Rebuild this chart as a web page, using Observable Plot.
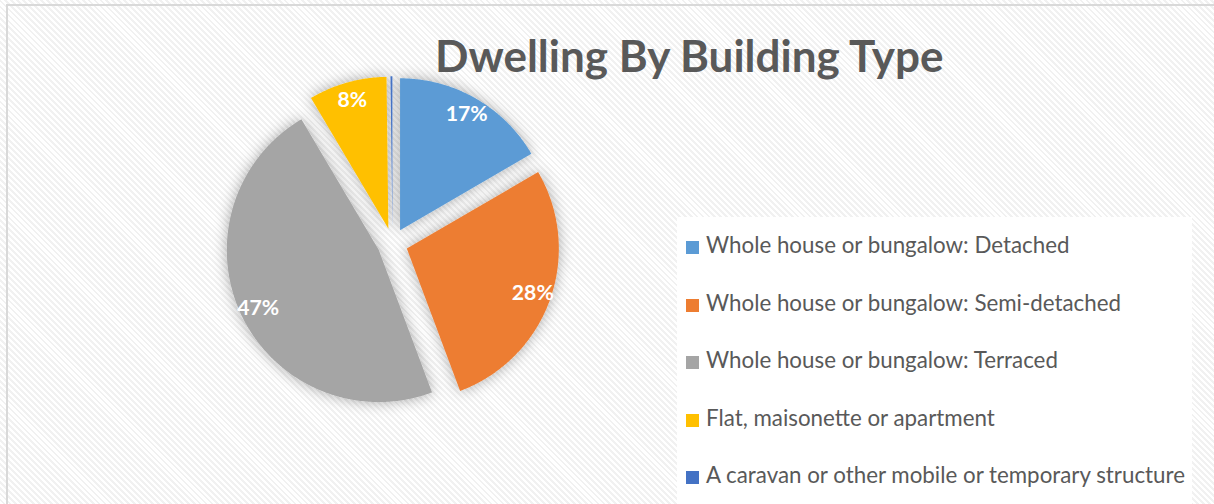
<!DOCTYPE html>
<html><head><meta charset="utf-8">
<script src="https://cdn.jsdelivr.net/npm/d3@7"></script>
<script src="https://cdn.jsdelivr.net/npm/@observablehq/plot@0.6"></script>
<style>
html,body{margin:0;padding:0;}
body{width:1214px;height:504px;overflow:hidden;position:relative;
 background: repeating-linear-gradient(45deg,#ffffff 0px,#ffffff 2.2px,#f1f1f1 2.2px,#f1f1f1 4.2px);}
#frame{position:absolute;left:6px;top:4px;width:1300px;height:600px;border-left:2px solid #d9d9d9;border-top:2px solid #d9d9d9;}
#chart{position:absolute;left:0;top:0;}
#title{position:absolute;white-space:nowrap;color:#595959;font-family:Lato,"Open Sans",sans-serif;font-weight:bold;}
#legendbox{position:absolute;left:677px;top:217px;width:515px;height:300px;background:#ffffff;}
.lg-row{position:absolute;white-space:nowrap;color:#595959;font-family:Lato,"Open Sans",sans-serif;}
.lg-sw{position:absolute;width:13px;height:13px;}
</style></head><body>
<div id="frame"></div>
<div id="legendbox"></div>
<div id="chart"></div>
<div id="title"></div>
<div id="legend"></div>
<script>
// ---- data ----
const categories = [
  "Whole house or bungalow: Detached",
  "Whole house or bungalow: Semi-detached",
  "Whole house or bungalow: Terraced",
  "Flat, maisonette or apartment",
  "A caravan or other mobile or temporary structure"
];
const shares = [16.6, 27.7, 47.2, 8.3, 0.2];
const colors = ["#5B9BD5", "#ED7D31", "#A5A5A5", "#FFC000", "#4472C4"];
const titleText = "Dwelling By Building Type";

// ---- layout ----
const W = 1214, H = 504;
const cx = 392, cy = 243, R = 152;
const explode = 0.1;      // in radius units
const labelDist = 0.88;   // from slice apex, radius units
const FONT = 'Lato, "Open Sans", sans-serif';

function fitSize(text, weight, target) {
  const ctx = document.createElement("canvas").getContext("2d");
  ctx.font = `${weight} 100px ${FONT}`;
  return 100 * target / ctx.measureText(text).width;
}

const arcs = d3.pie().sort(null).startAngle(0).endAngle(2 * Math.PI)(shares);
const slicePts = [];
const labels = [];
const total = d3.sum(shares);
arcs.forEach((a, i) => {
  const mid = (a.startAngle + a.endAngle) / 2;
  const ox = explode * Math.sin(mid), oy = explode * Math.cos(mid);
  const n = Math.max(2, Math.ceil((a.endAngle - a.startAngle) / (Math.PI / 360)));
  slicePts.push({category: categories[i], x: ox, y: oy});
  for (let k = 0; k <= n; k++) {
    const t = a.startAngle + (a.endAngle - a.startAngle) * k / n;
    slicePts.push({category: categories[i], x: ox + Math.sin(t), y: oy + Math.cos(t)});
  }
  const pct = Math.round(100 * shares[i] / total);
  if (pct >= 1) labels.push({
    x: ox + labelDist * Math.sin(mid),
    y: oy + labelDist * Math.cos(mid),
    label: pct + "%"
  });
});

const labelSize = fitSize("17%", "bold", 42);

const plot = Plot.plot({
  width: W, height: H, margin: 0,
  x: {domain: [-1, 1], range: [cx - R, cx + R], axis: null},
  y: {domain: [-1, 1], range: [cy + R, cy - R], axis: null},
  color: {domain: categories, range: colors},
  style: {background: "transparent", overflow: "visible"},
  marks: [
    Plot.line(slicePts, {x: "x", y: "y", z: "category", fill: "category", stroke: "none", curve: "linear"}),
    Plot.text(labels, {x: "x", y: "y", text: "label", fill: "white", fontWeight: "bold",
      fontSize: labelSize, fontFamily: FONT})
  ]
});

// soft drop shadow around the slices
const ns = "http://www.w3.org/2000/svg";
const defs = document.createElementNS(ns, "defs");
defs.innerHTML = `<filter id="pieShadow" x="-20%" y="-20%" width="140%" height="140%">
  <feDropShadow dx="0" dy="0" stdDeviation="7" flood-color="#000" flood-opacity="0.33"/></filter>`;
plot.insertBefore(defs, plot.firstChild);
const lineG = plot.querySelector('g[aria-label="line"]');
if (lineG) lineG.setAttribute("filter", "url(#pieShadow)");
document.getElementById("chart").appendChild(plot);

// ---- title ----
const tSize = fitSize(titleText, "bold", 511);
const tEl = document.getElementById("title");
tEl.textContent = titleText;
tEl.style.fontSize = tSize + "px";
tEl.style.lineHeight = tSize + "px";
tEl.style.left = "435px";
tEl.style.top = (72 - 0.887 * tSize) + "px";

// ---- legend ----
const lSize = fitSize(categories[4], "normal", 482);
const lg = document.getElementById("legend");
categories.forEach((c, i) => {
  const base = 254 + 57.5 * i;
  const sw = document.createElement("div");
  sw.className = "lg-sw";
  sw.style.left = "686px";
  sw.style.top = (base - 13) + "px";
  sw.style.background = colors[i];
  lg.appendChild(sw);
  const t = document.createElement("div");
  t.className = "lg-row";
  t.textContent = c;
  t.style.fontSize = lSize + "px";
  t.style.lineHeight = lSize + "px";
  t.style.left = "706px";
  t.style.top = (base - 0.887 * lSize) + "px";
  lg.appendChild(t);
});
</script>
</body></html>
